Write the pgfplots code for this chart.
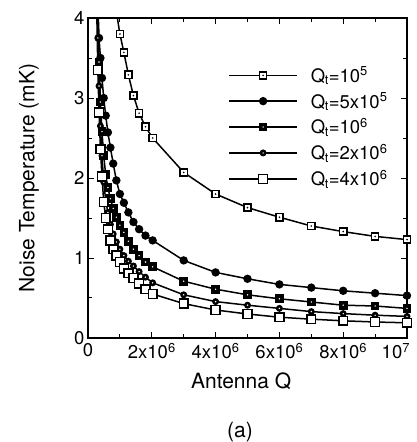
\documentclass[border=0pt]{standalone}
\usepackage{pgfplots}
\pgfplotsset{compat=1.18}
\usepackage{fontspec}
\setmainfont{TeX Gyre Heros}
\newcommand{\fs}{\fontsize{18.5}{22}\selectfont}
\newcommand{\fl}{\fontsize{21}{25}\selectfont}
\newcommand{\Qt}{Q\kern-0.5pt\textsubscript{t}}

% open square with a dot in the middle
\pgfdeclareplotmark{sqdot}{%
  \pgfpathrectangle{\pgfqpoint{-\pgfplotmarksize}{-\pgfplotmarksize}}{\pgfqpoint{2\pgfplotmarksize}{2\pgfplotmarksize}}%
  \pgfsetfillcolor{white}\pgfusepathqfillstroke
  \pgfpathcircle{\pgfpointorigin}{0.9pt}%
  \pgfsetfillcolor{black}\pgfusepathqfill}
% filled square with a white dot
\pgfdeclareplotmark{sqwdot}{%
  \pgfpathrectangle{\pgfqpoint{-\pgfplotmarksize}{-\pgfplotmarksize}}{\pgfqpoint{2\pgfplotmarksize}{2\pgfplotmarksize}}%
  \pgfsetfillcolor{black}\pgfusepathqfillstroke
  \pgfpathcircle{\pgfpointorigin}{0.8pt}%
  \pgfsetfillcolor{white}\pgfusepathqfill}
% filled circle with a white dot
\pgfdeclareplotmark{cwdot}{%
  \pgfpathcircle{\pgfpointorigin}{\pgfplotmarksize}%
  \pgfsetfillcolor{black}\pgfusepathqfillstroke
  \pgfpathcircle{\pgfpointorigin}{0.8pt}%
  \pgfsetfillcolor{white}\pgfusepathqfill}

\begin{document}
\begin{tikzpicture}
\path[use as bounding box] (0,0) rectangle (416pt,442pt);
\begin{axis}[
  at={(88pt,104pt)}, anchor=south west,
  scale only axis, width=319pt, height=320pt,
  xmin=0, xmax=10, ymin=0, ymax=4,
  axis line style={line width=1.1pt},
  tick style={line width=1pt, black},
  tick align=inside,
  major tick length=6pt, minor tick length=4pt,
  xtick={0,2,4,6,8,10}, minor xtick={1,3,5,7,9},
  ytick={0,1,2,3,4}, minor ytick={0.5,1.5,2.5,3.5},
  xticklabels={0, 2x10\textsuperscript{6}, 4x10\textsuperscript{6}, 6x10\textsuperscript{6}, 8x10\textsuperscript{6}, \makebox[6pt][r]{10\textsuperscript{7}}},
  yticklabels={0,1,2,3,4},
  every tick label/.append style={font=\fs},
  xticklabel style={yshift=-2pt},
  label style={font=\fl},
  xlabel={Antenna Q},
  ylabel={Noise Temperature (mK)},
  xlabel style={at={(axis description cs:0.48,-0.135)}, anchor=center},
  ylabel style={at={(axis description cs:-0.185,0.5)}, anchor=center},
  legend style={draw=none, fill=none, font=\fs, at={(axis description cs:0.43,0.86)}, anchor=north west, row sep=5pt, column sep=11pt},
  legend cell align=left,
  legend image code/.code={\draw[mark repeat=2,mark phase=2,#1] plot coordinates {(0pt,0pt) (34pt,0pt) (68pt,0pt)};},
]

% Q_t = 1e5
\addplot[black, line width=1.5pt, mark=sqdot, mark size=3.6pt] coordinates {
  (0.889,4.08) (1.0,3.80) (1.125,3.57) (1.266,3.29) (1.424,3.03) (1.602,2.81)
  (1.802,2.64) (2.027,2.50) (3,2.07) (4,1.80) (5,1.63) (6,1.51) (7,1.40)
  (8,1.33) (9,1.27) (10,1.23)
};
% Q_t = 5e5
\addplot[black, line width=1.5pt, mark=*, mark size=3.4pt] coordinates {
  (0.308,4.20) (0.346,3.75) (0.390,3.50) (0.438,3.25) (0.493,3.00) (0.555,2.78)
  (0.624,2.57) (0.702,2.38) (0.790,2.18) (0.889,1.97) (1.0,1.80) (1.125,1.69)
  (1.266,1.57) (1.424,1.45) (1.602,1.36) (1.802,1.28) (2.027,1.22) (3,0.97)
  (4,0.82) (5,0.74) (6,0.67) (7,0.63) (8,0.59) (9,0.56) (10,0.53)
};
% Q_t = 1e6
\addplot[black, line width=1.5pt, mark=sqwdot, mark size=3.6pt] coordinates {
  (0.308,4.10) (0.346,3.45) (0.390,2.95) (0.438,2.58) (0.493,2.28) (0.555,2.04)
  (0.624,1.88) (0.702,1.74) (0.790,1.62) (0.889,1.51) (1.0,1.41) (1.125,1.32)
  (1.266,1.21) (1.424,1.11) (1.602,1.03) (1.802,0.95) (2.027,0.89) (3,0.71)
  (4,0.61) (5,0.54) (6,0.49) (7,0.45) (8,0.41) (9,0.40) (10,0.37)
};
% Q_t = 2e6
\addplot[black, line width=1.5pt, mark=cwdot, mark size=2.7pt] coordinates {
  (0.274,4.50) (0.308,3.75) (0.346,3.15) (0.390,2.65) (0.438,2.28) (0.493,1.95)
  (0.555,1.72) (0.624,1.57) (0.702,1.42) (0.790,1.30) (0.889,1.20) (1.0,1.11)
  (1.125,1.03) (1.266,0.96) (1.424,0.90) (1.602,0.83) (1.802,0.76) (2.027,0.69)
  (3,0.54) (4,0.455) (5,0.41) (6,0.37) (7,0.33) (8,0.305) (9,0.285) (10,0.27)
};
% Q_t = 4e6
\addplot[black, line width=1.5pt, mark=square*, mark size=4.4pt, mark options={fill=white}] coordinates {
  (0.274,4.10) (0.308,3.35) (0.346,2.82) (0.390,2.36) (0.438,2.02) (0.493,1.70)
  (0.555,1.50) (0.624,1.36) (0.702,1.22) (0.790,1.11) (0.889,1.03) (1.0,0.95)
  (1.125,0.87) (1.266,0.81) (1.424,0.75) (1.602,0.68) (1.802,0.61) (2.027,0.55)
  (3,0.43) (4,0.35) (5,0.30) (6,0.26) (7,0.235) (8,0.215) (9,0.20) (10,0.19)
};

\legend{\Qt=10\textsuperscript{5},
        \Qt=5x10\textsuperscript{5},
        \Qt=10\textsuperscript{6},
        \Qt=2x10\textsuperscript{6},
        \Qt=4x10\textsuperscript{6}}
\end{axis}
\node[font=\fl] at (240pt,10pt) {(a)};
\end{tikzpicture}
\end{document}
